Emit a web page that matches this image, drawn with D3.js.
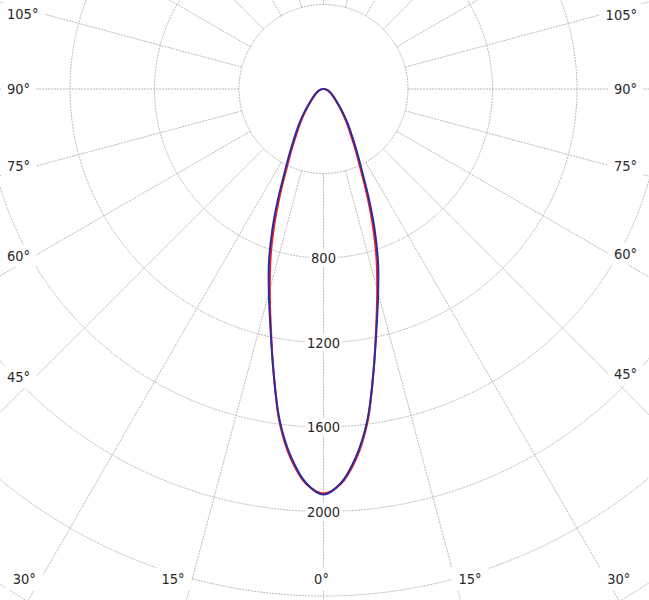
<!DOCTYPE html>
<html>
<head>
<meta charset="utf-8">
<script src="https://cdn.jsdelivr.net/npm/d3@7"></script>
<style>
  body { margin: 0; background: #fff; }
  svg { display: block; }
  text { font-family: "DejaVu Sans Condensed", "DejaVu Sans", sans-serif; font-size: 14.5px; fill: #2a2a2a; }
</style>
</head>
<body>
<svg id="chart" width="649" height="600"></svg>
<script>
// gamma angles (deg from nadir) and intensities (cd) for the two planes
const angles = [0, 2.5, 5, 7.5, 10, 12.5, 15, 17.5, 20, 22.5, 25, 27.5, 30, 35, 40, 45, 50, 55, 60, 65, 70, 75, 80, 85, 90]
const blueValues = [1920, 1868, 1751, 1585, 1361, 1160, 1000, 859, 708, 560, 435, 351, 287, 201, 138, 95, 70, 54, 42, 33, 25, 18, 12, 6, 0]
const redValues = [1915, 1872, 1760, 1592, 1362, 1152, 982, 832, 678, 533, 412, 331, 268, 186, 128, 88, 65, 50, 39, 30, 23, 16, 10, 5, 0]

const rings = [400, 800, 1200, 1600, 2000, 2400, 2800]
const ringLabels = [800, 1200, 1600, 2000]
const spokes = [0, 15, 30, 45, 60, 75, 90, 105, 120, 135, 150, 165, 180, 195, 210, 225, 240, 255, 270, 285, 300, 315, 330, 345]
const sideLabels = [45, 60, 75, 90, 105]
const bottomLabels = [0, 15, 30]

let svg = d3.select("#chart")
let width = +svg.attr("width")
let height = +svg.attr("height")

const cx = 323.5, cy = 89
const r = d3.scaleLinear().domain([0, 2000]).range([0, 422.5])
const rad = d => d * Math.PI / 180

// theta measured from straight down, side -1 = left, +1 = right
function pt(theta, v, side) {
  return [side * r(v) * Math.sin(rad(theta)), r(v) * Math.cos(rad(theta))]
}

let g = svg.append("g").attr("transform", `translate(${cx},${cy})`)

let grid = g.append("g")
    .attr("fill", "none")
    .attr("stroke", "#b9b9b9")
    .attr("stroke-width", 1)
    .attr("stroke-dasharray", "2,1")

grid.selectAll("circle")
  .data(rings)
  .enter().append("circle")
    .attr("r", d => r(d))

grid.selectAll("line")
  .data(spokes)
  .enter().append("line")
    .attr("x1", d => pt(d, 400, 1)[0])
    .attr("y1", d => pt(d, 400, 1)[1])
    .attr("x2", d => pt(d, 3000, 1)[0])
    .attr("y2", d => pt(d, 3000, 1)[1])

// label with white box behind it
function label(parent, txt, pad) {
  let lg = parent.append("g")
  let box = lg.append("rect").attr("fill", "#fff")
  let t = lg.append("text").attr("dy", "0.35em").text(txt)
  return {lg, box, t, pad}
}
function fitBox(l) {
  let b = l.t.node().getBBox()
  l.box.attr("x", b.x - l.pad).attr("y", b.y - l.pad / 2)
      .attr("width", b.width + 2 * l.pad).attr("height", b.height + l.pad)
}

let labels = svg.append("g")

ringLabels.forEach(v => {
  let l = label(labels, v, 2)
  l.t.attr("text-anchor", "middle").attr("x", cx).attr("y", cy + r(v))
  fitBox(l)
})

sideLabels.forEach(a => {
  let cot = Math.cos(rad(a)) / Math.sin(rad(a))
  let left = label(labels, a + "°", 6)
  let w = left.t.node().getComputedTextLength()
  left.t.attr("x", 7).attr("y", cy + (cx - (7 + w + 5)) * cot)
  fitBox(left)
  let right = label(labels, a + "°", 6)
  right.t.attr("text-anchor", "end").attr("x", 637).attr("y", cy + (637 - w - 5 - cx) * cot)
  fitBox(right)
})

bottomLabels.forEach(a => {
  [-1, 1].forEach(side => {
    if (a === 0 && side === 1) return
    let l = label(labels, a + "°", 7)
    let w = l.t.node().getComputedTextLength()
    let x = a === 0 ? cx - 2 : cx - 2 + side * ((570 - cy) * Math.tan(rad(a)) + w / 2 + 8)
    l.t.attr("text-anchor", "middle").attr("x", x).attr("y", 579)
    fitBox(l)
  })
})

// curves: left half from 90 down to 0, right half 0 up to 90
function curvePoints(values) {
  let pts = []
  for (let i = angles.length - 1; i >= 0; i--) pts.push({a: Math.PI + rad(angles[i]), v: values[i]})
  for (let i = 1; i < angles.length; i++) pts.push({a: Math.PI - rad(angles[i]), v: values[i]})
  return pts
}

let line = d3.lineRadial()
    .angle(d => d.a)
    .radius(d => r(d.v))
    .curve(d3.curveCatmullRom.alpha(0.5))

g.append("path")
    .attr("d", line(curvePoints(redValues)))
    .attr("fill", "none")
    .attr("stroke", "#ff1e1e")
    .attr("stroke-width", 2)

g.append("path")
    .attr("d", line(curvePoints(blueValues)))
    .attr("fill", "none")
    .attr("stroke", "#2c2ca0")
    .attr("stroke-width", 2)
</script>
</body>
</html>
